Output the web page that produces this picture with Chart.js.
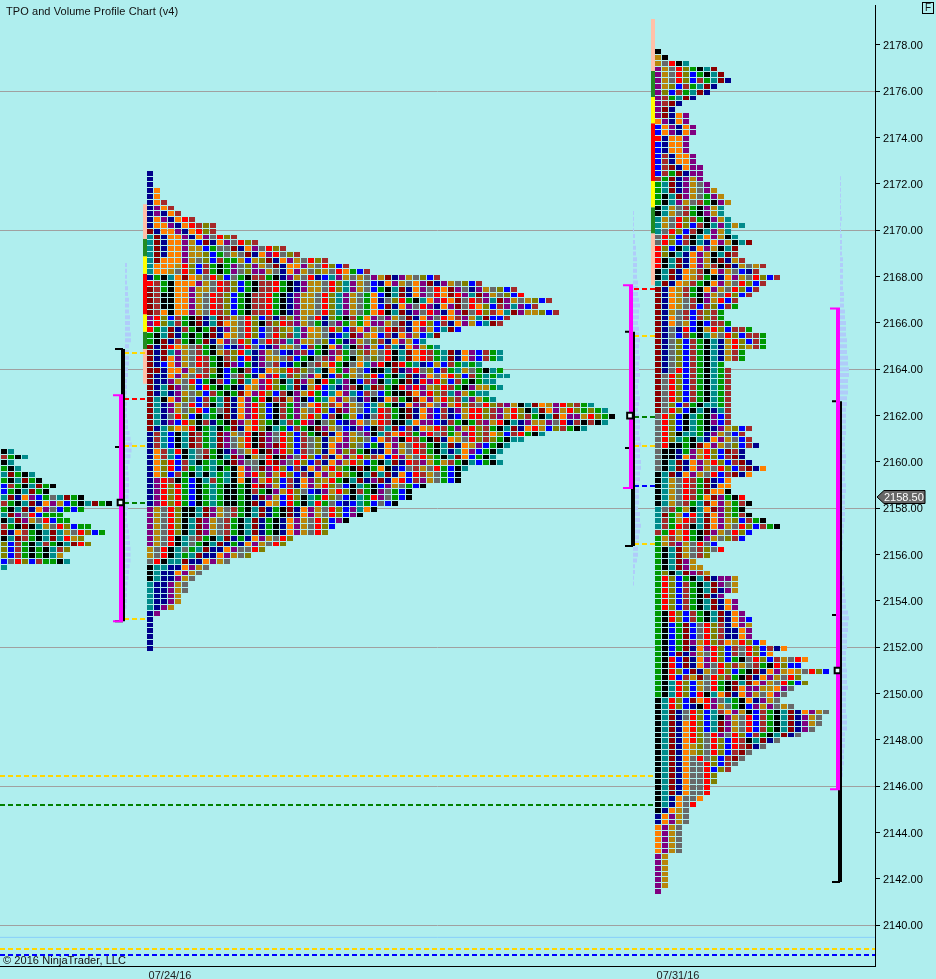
<!DOCTYPE html>
<html>
<head>
<meta charset="utf-8">
<title>TPO and Volume Profile Chart (v4)</title>
<script src="https://cdn.jsdelivr.net/npm/chart.js@4"></script>
<style>
body{margin:0;background:#AFEEEE;overflow:hidden;font-family:"Liberation Sans",Arial,sans-serif;color:#111;}
#wrap{position:relative;width:936px;height:979px;overflow:hidden;}
canvas{position:absolute;left:0;top:0;}
.txt{position:absolute;font-size:11px;line-height:13px;white-space:nowrap;letter-spacing:0.07px;}
#fbox{position:absolute;left:922px;top:2px;width:10px;height:10px;border:1px solid #000;font-size:10px;line-height:10px;text-align:center;}
</style>
</head>
<body>
<div id="wrap">
<canvas id="chart" width="936" height="979"></canvas>
<div class="txt" style="left:6px;top:5px">TPO and Volume Profile Chart (v4)</div>
<div class="txt" style="left:3px;top:954px">© 2016 NinjaTrader, LLC</div>
<div id="fbox">F</div>
</div>
<script>
// data: TPO rows, top row first, one letter per cell (spaces only to help counting)
const rowStep = 0.25;

const leftTop = 2160.5;
const leftRows = [
"kt","wgkt","kt","gkt","tmgkt","gktmgk","bwgktmgk","bgktmgk",
"tmnopbghtm gk","wgktmnopyb gktmgk","gktmnophbg bg","tmphrbggg","ktmpyhrbgg",
"wgkmktyhrl bgg","mnowgktmty hrlbg","ktmwgktmtr yl","lbwgktwgkt mrl","lbwgkgktwl",
"lbwgkgkty","bhrlbwggkt","t"
];

const midTop = 2172.5;
const midRows = [
"n","n","n","no","no","now","npow","npnow","nopnorw","noopnorwlw","mnoopnorlw",
"tmnoopnoph rlw","tmnoopybmn ophrlw","tmnoopyybg hhmnophrlw","tmnoopyylb ghyhmnoprh lw",
"tmooopyhlb wggybylmno pyhrlw","toooyrlbwg kgphlpyhmn oopyhrlbw","tooyhrlbwg kgphlppyhn opyhlyhrog bw",
"ngktomoyhr lbhgkwwgkn pyhrnbtpyh yh pymnpyhlbw",
"rwgkooopyh rwlbgkwwrg knpyyhrltp yhb nopyhopmnp yhlbw",
"mwgkoopyyh rwlbgkwwrg knpyyhrltp yhb gktmnophro mphnpyhlbw",
"mwkkoopyhr wlbgkwwrgk npyyhrltpy hgo bktmnophro mrptmpyhlb r",
"mwkkoopyhr wlbgkwwrgk npyyhrltpy hgon hlrgktopro mhrwptmpyh ylbw",
"mwkkoopyhr wlbgkwwrgk npyyhrltpy hgo bmnophrpno pmhrolbwpt pbw",
"mwokoopyhr wlbgkwwrgk npyyhrltpy hgo rktmnphrpn opmhrlwotm pyylbw",
"prlbwgkmnt mwyhrlbwnw lpyhrnlgkw gop hpyhmnophr owpytmbbw",
"prltwgkmnt moyhrlkwlr wpyhgnhpgy gop pyhmnorlbw nopybtmw",
"rgtmnwgkgm npyhrlbhwl ytpoyhrlbw opy hrmwnopybt mb",
"gktmngkgkm noyhrlbhrl wtpyyhnbtm pyo bwnopybtm",
"gkmnwgkgmn ophrlbhrwp tpyyhlbgnp yhl wnopybt",
"mnmroyhwgk hbnprhbnpy yhbwgkoptk wpy bwtnopygt",
"mnmtpyhwgk ywlrtnpyhb npwbgkpwgh lwy hrktmorwgt mnopbwgt",
"mnmopyhrwg kwlbrnpyyh wbgkhwpogk yhl hrktmorwgt mnopbwgt",
"mnbopyhrwg kmpbgnphwb ngkhwyrgkh otp rkmrgtnbyb wgtgt",
"mmnoopyhwl kbgkwbnoyl rwlhtkogpy hbk ktmnprhlbw gtyhgktg",
"mnnopyhrwg kbhwgnoprt wlhpokbwgy hlr bgktmnpoho rlbwgtgtt",
"mnnpyhrbgk wbgmtoprlk tmpykrgtpk bwp ktgkmnrprl bwgkgtt",
"mntmphlbrg kgknoyprlg tmnyrbtnpw ktm wgkrprpylr wgkpyygt",
"mntnpyhlbw gkgmoprlbw kpyrgbtopt bwh bgkkmoprlw tpygtt",
"mtkoplhbwg tmnopgrkwm ypkbgtopyh npk nowgkmopyr lwtpygt",
"mtnpyhrbwk tmnoprlbkw gphorlwopy hbt ygknopwohp yrlwhrlwpy ktmoyprlwgt",
"mtnpyhlrbg hmnoprlbkw gpyhrlbmpy hbt rwgkmnopbw npyrrlwpyr lktmopyrlg lgt",
"mtnhrlbktg kmnoprlbkw gpyrlbwkgy bnh rwgkmnopbw nbyrrlwpyr lwgktmoppy rlgk",
"mtnpbrlkwn gkmpyrlgkt wgrpkhlbnp ohy rwkktoppbn wgkgwpyrkt npyyphrnwk wkt",
"mntloyrkgt kgmnorlktg bwgkmpyhbn pbk wtmbwnoyrw gpyrlwgktm noryblwgkt",
"nwtbktmwgt mpyhrkmphr lbwgkmnopy hpk tworwgprhw gyprlwolbw rgkt",
"nwtbktmwgt mphyrkmphr lbwhlnyopy lhb owpkrwgkmn oyhrlwlgkt t",
"nwtbktmwgt mphyrkmpmr lbwhlnoppl hbg nopyhrwgkt mnoypbgkt",
"nowtrkthwg knphyrkmpr lbwhlnoplw gkn nopyhrwgkt ntopbgkt",
"nowtbkthmg ktmpkyhrkm phrlbwnopy rlw obrpyhrlgk tmobgkt",
"nolrbwtkgt gkmphhkrmp hrlbwnopyr lbg ktmnrwpygy wgktbgkt",
"nolrbwgtgt kgkophmprl bwnopyrlgk mkg oknbhwyhrg bkt",
"nolbwgktkt gtkoprlpyr lbwnopyrlg ktm tmnobrwyhg bk",
"nprwkgbktw gtkokpyrlb wnoplyrgkt mnp mnorbwpyhg bk",
"nprlrgbkgt gkkgkrmpyb wnopyrlhbk tgk bpyhgbk",
"nprlrgbkgt gkkgkwgkpy rlhbnpyrlk wgk phgbk",
"nprlrgbkgt gkkgknmpyb rlktgrlhbk tgr phgbk",
"nprlrgbkgt gkkgkmnoyb rgktrghbnb tgb hbk",
"pyhrlkktmp yhwgktmngk mnopyhrlbp tok",
"pyhrlkktmp yhwgktmngk mnopyhrlbp k",
"pyhrlktmpy hwgktmngkn opyhrlbpk",
"pyhrlktmpy hwgktmngkn opyhrlb",
"pyhrlktmpy hwgktmngkn opyhrl",
"pyhrkthwgk tmngnopyhr l",
"pyhrkthgkt mngnopyhrl",
"yhrkthgtmn nophhrl",
"yhrktgtmnn opyhl",
"hrkttmnnop yh",
"kttnnopyh","ktnnopyh","ktnnpyh","tnnpyh","tnnpyh","tnnpy","tnnpy","tnpy","np",
"n","n","n","n","n","n"
];

const rightTop = 2177.75;
const rightRows = [
"k","yk","yhrkt","pyhrlgktm","pyhrlbgktm","pyhrlbwgtm n","pylbwgtmn","plbwgtmn","pwgtmn","pwmn","pmn",
"pmnop","opnop","bopnop","bopnop","rnoop","bnoop","bnoop","bwnoop","bwnoop","bwmnopp","bwgmnpp","wgmnpyp",
"gtmnpyhp","gtmnpyhpy","gktmpyhgpy","gktpyhwgkp y","ktyhwgkpyt","ktyhwgkpyt","tyhrlwgkpy t","tyhrlbwktp tyt",
"thrlbwktpy t","hrlbwktopy kt","hrlbwktnop yktm","rlbktnopyk tm","rlktnopykt mw","rktmnopykm nyw",
"rktmnopywk mnyhyw","ktmnoywkop yhbnw","ktmnoywgkn opyhrlbw","tmnoywgkop yhrlbw","mnoywgkopy hrlbw","mnoywgkpyh rlbw",
"mnoyhwkpyr bw","mnoyhwbwlb wg","mnyhwbwlwg","mnohwbwlwg","mnohybkbww g","mnhnrbkyrl bwwg","mnhbwgktyh rlbwwg",
"mnhlbwgktn yrlbwg","mnhlbwgktn yrlywg","mnhlbwgktn ywg","mnhlbwgktn ywg","mnhlbwgktg",
"mnhrbwgktg w","mhrlbwgktg w","mhrlbwgktg w","mhrlbwgktg w","mhrlbwgktg w","mhrlbwgktg w","mhlbwgkttg w","mhrlbktknt w",
"hrlbktgkpb w","hrlbktgkpb w","hrlbktgknp ylbw","hrlkttgnpy hbw","hrltgktnop yhbw","hrkkgkmopy hlbwn","hkkngpyrlb mwn",
"hkknopyrlb wmn","hktmnopyrl bwmn","hktmnopyhr lbwmno","ktmnopyhrb wmno","ktyhrwgmnb o","ktyhrwgmno o","ktyhrwgmoo k",
"ktyhrwgomp gkr","ktyhwgtmop ygwk","thwgyktomp lgk","tmgybrtmop lgwk","twgyrwtmop ylbwgk","twgrwktmop yhrlbwgk",
"wgryrgkmpy hrlb","gywyrgkpyh lwb","gywpyhrhb","gktmyhwlhr","gktmyhwl","gktmpy","gktmpyy","glktmpwy",
"grlbgktmnp py","grlbwgktmp hy","grlbwgktmn py","grlbwgkmnp","grlbwgktmn op","grlbwgktmn op","gkrlbwgktm nop","gkrlbwgktm nopb",
"gkbgmbhrlw nopy","gkbgmbhrlw nnop","gkbgmbhrlw nnop","gkbgmpyrlw oyrlbo","gkbgmnoprl bwhrlbwno","gkbmnpyhrl bwhrlbo",
"gkrbmnoprl bgkhrlbwyh ro","gkrbmnophr lwyhwgkrlb b","gkrlbmnyhr lbgkmnopyo yhrlb","gkrbwymhrl wgkmnopyhr l",
"gktrlbyhrg kmtmopyhrg bl","gktrlbyhrg kmoppyyoph","gktrlbrkto mnopyhoph","ktrlbmorph tgkonpyh","ktrlbnkrpy hgkbpyphyh",
"ktmnhrlbtw opykbwgktm nopyh","ktmnhrlbtk pyhrbwgktm npyh","ktmnorlbtm pyhrbwgktm npyh","ktmnorlbtm pyhrbwgktm nph",
"ktmnorlhrp hrlbwgktmn h","ktmnorlhrl brwktmnh","ktmnoylhrl brwmnh","ktmnoylhrl bwmh","ktmnohrhlb wmh","ktmnohhrlb wh",
"ktmnohhrbl w","ktmnohhrl","ktmnohhrl","ktmnohhr","ktmnohhr","ktnohho","ktnohr","knoyh","nopyh","nopyh",
"opyh","opyh","opyh","opyh","opyh","py","py","py","py","py","py","p"
];

// volume profile widths per 0.25 row
const leftVolTop = 2169.5;
const leftVol = [1,1,1,1,2,2,2,2,3,3,4,4,4,5,5,5,6,6,4,4,4,4,3,3,2,2,2,2,2,2,
2,3,3,4.5,5.5,7,6.5,5.5,4.5,3,3.5,4,4,4,3.5,3,3,2,2,3,4,4.5,5,5.5,5.5,5.5,4.5,4,3.5,2.5,2,2,2,1.5,1,1,1];
const midVolTop = 2170.75;
const midVol = [1,1,1,1,2,2,3,3,4,4,4,4,5,5,5,6,7,6,6,5,6,6,7,6,6,7,6,6,7,6,5,6,7,6,5,6,7,7,6,7,8,7,7,8,8,7,7,6,6,6,6,5,7,7,8,7,6,6,5,5,4,2,2,1,1];
const rightVolTop = 2172.25;
const rightVol = [1,1,1,1,1,1,1,2,1,1,2,2,2,2,3,3,3,3,3,3,4,4,4,5,5,6,6,6,7,7,7,8,8,9,9,8,8,8,7,7,
6,6,6,6,6,5,5,5,6,6,5,5,5,6,6,5,5,5,5,5,4,4,3,3,3,2,2,2,3,4,4,5,5,6,6,8,9,
8,8,7,7,7,6,6,6,7,7,7,8,6,6,6,6,7,7,7,5,5,5,4,4,4,3,3,2,1,1];

// session strips left of the profiles
const stripColors = ['#FFC0A8','#228B22','#FFFF00','#FF0000','#FFFF00','#228B22','#FFC0A8'];
const midStrip = [2171.125,2169.625,2168.875,2168.125,2166.375,2165.625,2164.875,2163.375];
const rightStrip = [2179.125,2176.875,2175.75,2174.625,2172.125,2171,2169.875,2167.625];

// range bars for the three sessions
const magentaTop = [2162.875,2167.625,2166.625];
const magentaBottom = [2153.125,2158.875,2145.875];
const blackTop = [2164.875,2165.625,2162.625];
const blackBottom = [2153.125,2156.375,2141.875];
const blackTick = [2160.65,2160.6,2153.4];
const pocPrice = [2158.25,2162,2151];

// dashed levels between range bars and profiles
const leftGold = [2164.7,2160.69,2153.22];
const leftRed = [2162.72];
const leftGreen = [2158.23];
const midRed = [2167.47];
const midGold = [2165.44,2160.69,2156.46];
const midGreen = [2161.94];
const midBlue = [2158.96];
const longGold = 2146.44;
const longGreen = 2145.19;
const floorBlueLine = 2139.48;
const floorGold = 2138.98;
const floorBlue = 2138.72;

const lastPrice = 2158.5;
const yTicks = [2140,2142,2144,2146,2148,2150,2152,2154,2156,2158,2160,2162,2164,2166,2168,2170,2172,2174,2176,2178];
const gridPrices = [2140,2146,2152,2158,2164,2170,2176];
const xLabels = ['07/24/16','07/31/16'];

// setup
const palette = {n:'#00008B',b:'#0000FF',t:'#008B8B',g:'#009900',k:'#000000',r:'#FF0000',m:'#8B0000',
  w:'#A52A2A',o:'#FF7F00',p:'#800080',y:'#B8860B',l:'#808000',h:'#696969'};
const slotX = {left:4, mid:150, right:658};
const slotW = 7;
const rightEdge = 875;
const barX = {magenta:[121,631,838], black:[123,633,840], poc:[120.5,630,837.5]};
const xLabelAt = [170,678];

const cells = {};
Object.keys(palette).forEach(k => cells[k] = []);
function addRows(rows, top, x0){
  rows.forEach((row, i) => {
    let c = 0;
    for (const ch of row) {
      if (ch === ' ') continue;
      cells[ch].push({x: x0 + c * slotW, y: top - i * rowStep});
      c++;
    }
  });
}
addRows(leftRows, leftTop, slotX.left);
addRows(midRows, midTop, slotX.mid);
addRows(rightRows, rightTop, slotX.right);

function sprite(color, h){
  const c = document.createElement('canvas');
  c.width = 6; c.height = h;
  const g = c.getContext('2d');
  g.fillStyle = color;
  g.fillRect(0, 0, 6, h);
  return c;
}
// rows sit 5 or 6 px apart on screen, the cell always leaves a 1 px gap
function cellStyle(color){
  const tall = sprite(color, 5), short = sprite(color, 4);
  return function(ctx){
    if (!ctx.parsed) return tall;
    const s = ctx.chart.scales.y;
    const top = Math.floor(s.getPixelForValue(ctx.parsed.y) + 1);
    const next = Math.floor(s.getPixelForValue(ctx.parsed.y - rowStep) + 1);
    return next - top < 6 ? short : tall;
  };
}

// helper: many separate segments in one line dataset
function segs(list){
  const out = [];
  list.forEach(s => { out.push({x:s[0],y:s[1]},{x:s[2],y:s[3]},{x:null,y:null}); });
  return out;
}
function lineSet(list, color, width, dash){
  return {type:'scatter', showLine:true, data:segs(list), borderColor:color, borderWidth:width,
    borderDash:dash || [], pointRadius:0, spanGaps:false, tension:0, fill:false};
}
function volSegs(vals, top, x0){
  return vals.map((w, i) => [x0, top - i * rowStep, x0 + w, top - i * rowStep]);
}
function stripSets(levels, x){
  return stripColors.map((col, i) => lineSet([[x, levels[i], x, levels[i + 1]]], col, 4));
}
const dash = [5,3];
function levels(list, x1, x2){ return list.map(p => [x1, p, x2, p]); }

const datasets = [];
// first dataset ends up on top
datasets.push({type:'scatter', data:pocPrice.map((p, i) => ({x:barX.poc[i], y:p})), pointStyle:'rect',
  pointRadius:4, pointBackgroundColor:'#E8FFFF', pointBorderColor:'#000', pointBorderWidth:2, showLine:false});
datasets.push(lineSet(magentaTop.map((p, i) => [barX.magenta[i], p, barX.magenta[i], magentaBottom[i]]), '#FF00FF', 4));
datasets.push(lineSet(magentaTop.map((p, i) => [barX.magenta[i] - 8, p, barX.magenta[i] + 2, p])
  .concat(magentaBottom.map((p, i) => [barX.magenta[i] - 8, p, barX.magenta[i] + 2, p])), '#FF00FF', 2));
datasets.push(lineSet(blackTop.map((p, i) => [barX.black[i], p, barX.black[i], blackBottom[i]]), '#000', 4));
datasets.push(lineSet(blackTop.map((p, i) => [barX.black[i] - 8, p, barX.black[i], p])
  .concat(blackBottom.map((p, i) => [barX.black[i] - 8, p, barX.black[i], p]))
  .concat(blackTick.map((p, i) => [barX.black[i] - 8, p, barX.black[i] - 2, p])), '#000', 2));
datasets.push(lineSet(levels(leftGold, 124, 147).concat(levels(midGold, 634, 655)), '#FFD700', 2, dash));
datasets.push(lineSet(levels(leftRed, 124, 147).concat(levels(midRed, 634, 655)), '#FF0000', 2, dash));
datasets.push(lineSet(levels(leftGreen, 124, 147).concat(levels(midGreen, 634, 655)), '#008000', 2, dash));
datasets.push(lineSet(levels(midBlue, 634, 655), '#0000FF', 2, dash));
Object.keys(cells).forEach(k => {
  datasets.push({type:'scatter', tpo:true, data:cells[k], pointStyle:cellStyle(palette[k]), pointRadius:3, showLine:false});
});
stripSets(midStrip, 145).concat(stripSets(rightStrip, 653)).forEach(d => datasets.push(d));
datasets.push(lineSet(levels([longGold], 0, 655), '#FFD700', 2, dash));
datasets.push(lineSet(levels([longGreen], 0, 655), '#008000', 2, dash));
datasets.push(lineSet(levels([floorGold], 0, rightEdge), '#FFD700', 2, dash));
datasets.push(lineSet(levels([floorBlue], 0, rightEdge), '#0000FF', 2, dash));
datasets.push(lineSet(levels([floorBlueLine], 0, rightEdge), '#87CEFA', 1));
datasets.push(lineSet(volSegs(leftVol, leftVolTop, 125), '#B0CCFA', 4));
datasets.push(lineSet(volSegs(midVol, midVolTop, 633), '#B0CCFA', 4));
datasets.push(lineSet(volSegs(rightVol, rightVolTop, 840), '#B0CCFA', 4));

// snap cells to whole pixels like the original, and draw the last price tag
const snapAndTag = {
  id:'snapAndTag',
  beforeDatasetsDraw(chart){
    chart.data.datasets.forEach((d, i) => {
      if (!d.tpo) return;
      chart.getDatasetMeta(i).data.forEach(p => {
        p.y = Math.floor(p.y + 1) - 2 + p.options.pointStyle.height / 2;
      });
    });
  },
  afterDraw(chart){
    const c = chart.ctx;
    const y = Math.round(chart.scales.y.getPixelForValue(lastPrice));
    c.save();
    c.beginPath();
    c.moveTo(877, y);
    c.lineTo(884, y - 6.5);
    c.lineTo(925, y - 6.5);
    c.lineTo(925, y + 6.5);
    c.lineTo(884, y + 6.5);
    c.closePath();
    c.fillStyle = '#666';
    c.fill();
    c.strokeStyle = '#000';
    c.lineWidth = 1;
    c.stroke();
    c.fillStyle = '#fff';
    c.font = '11px "Liberation Sans", Arial, sans-serif';
    c.textBaseline = 'middle';
    c.fillText(lastPrice.toFixed(2), 884, y + 0.5);
    c.restore();
  }
};

// config
const config = {
  data: {datasets: datasets},
  options: {
    responsive:false,
    animation:false,
    devicePixelRatio:1,
    events:[],
    layout:{autoPadding:false, padding:{top:5,left:0,right:0,bottom:0}},
    plugins:{legend:{display:false}, tooltip:{enabled:false}, title:{display:false}},
    scales:{
      x:{
        type:'linear', min:0, max:rightEdge,
        afterFit(s){ s.height = 13; s.paddingLeft = 0; s.paddingRight = 0; },
        afterBuildTicks(s){ s.ticks = xLabelAt.map(v => ({value:v})); },
        grid:{display:false, drawTicks:false},
        border:{display:true,color:'#000',width:1},
        ticks:{autoSkip:false,maxRotation:0,padding:3,color:'#222',font:{family:'"Liberation Sans"',size:11},
          callback(v){ return xLabels[xLabelAt.indexOf(v)]; }}
      },
      y:{
        type:'linear', position:'right', min:2138.244, max:2179.725,
        afterFit(s){ s.width = 61; s.paddingTop = 0; s.paddingBottom = 0; },
        afterBuildTicks(s){ s.ticks = yTicks.map(v => ({value:v})); },
        grid:{color(ctx){ return gridPrices.includes(ctx.tick && ctx.tick.value) ? '#A0A0A0' : 'rgba(0,0,0,0)'; },
          tickColor:'#000',tickLength:5,lineWidth:1,drawTicks:true},
        border:{display:true,color:'#000',width:1},
        ticks:{autoSkip:false,padding:3,labelOffset:1,color:'#000',font:{family:'"Liberation Sans"',size:11},
          callback(v){ return v.toFixed(2); }}
      }
    }
  },
  plugins:[snapAndTag]
};

// render init block
const tpoChart = new Chart(document.getElementById('chart'), config);
</script>
</body>
</html>
